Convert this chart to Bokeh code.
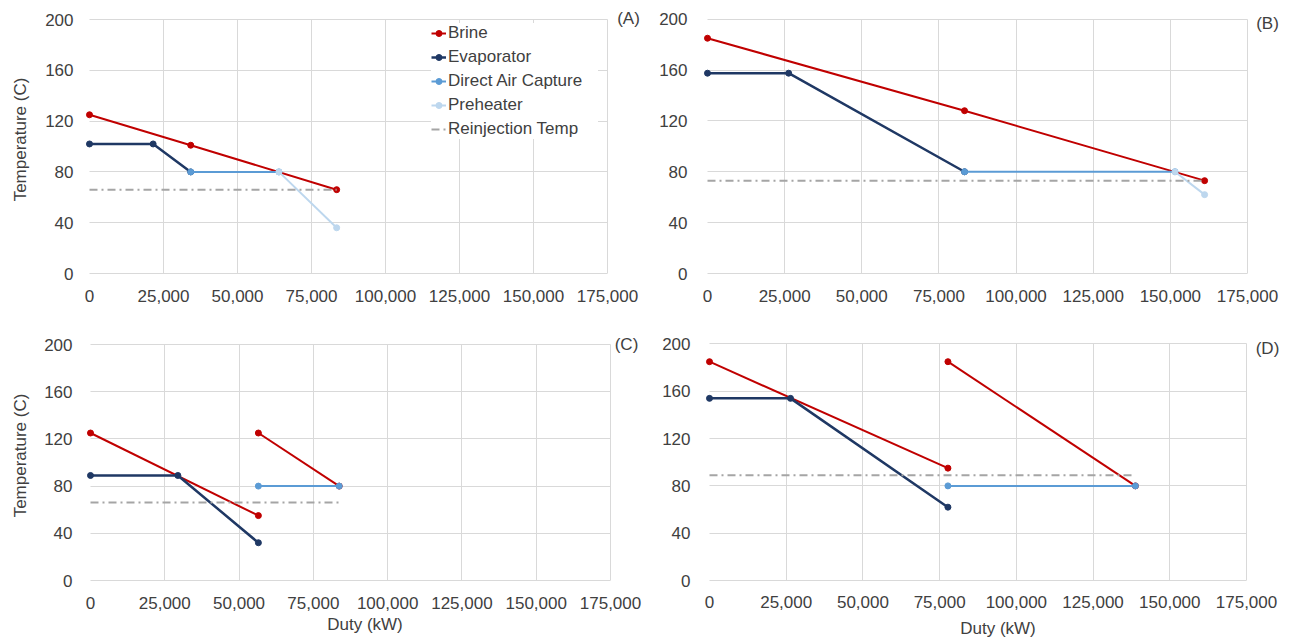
from bokeh.plotting import figure
from bokeh.layouts import column, row
from bokeh.models import Range1d, FixedTicker, NumeralTickFormatter, Label, Legend, LegendItem
from bokeh.embed import file_html
from bokeh.resources import INLINE

# ---------------- data ----------------
x_ticks = [0, 25000, 50000, 75000, 100000, 125000, 150000, 175000]
y_ticks = [0, 40, 80, 120, 160, 200]
panel_labels = ["(A)", "(B)", "(C)", "(D)"]
series_names = ["Brine", "Evaporator", "Direct Air Capture", "Preheater", "Reinjection Temp"]
x_title = "Duty (kW)"
y_title = "Temperature (C)"

# Panel A
a_brine_x = [0, 34200, 83500]
a_brine_y = [125, 101, 66]
a_evap_x = [0, 21500, 34200]
a_evap_y = [102, 102, 80]
a_dac_x = [34200, 64000]
a_dac_y = [80, 80]
a_pre_x = [64000, 83500]
a_pre_y = [80, 36]
a_reinj_x = [0, 83500]
a_reinj_y = [66, 66]

# Panel B
b_brine_x = [0, 83300, 161100]
b_brine_y = [185, 128, 73]
b_evap_x = [0, 26300, 83300]
b_evap_y = [157.5, 157.5, 80]
b_dac_x = [83300, 151500]
b_dac_y = [80, 80]
b_pre_x = [151500, 161100]
b_pre_y = [80, 62]
b_reinj_x = [0, 161100]
b_reinj_y = [73, 73]

# Panel C
c_brine1_x = [0, 56500]
c_brine1_y = [125, 55]
c_brine2_x = [56500, 83700]
c_brine2_y = [125, 80]
c_evap_x = [0, 29400, 56500]
c_evap_y = [89, 89, 32]
c_dac_x = [56500, 83700]
c_dac_y = [80, 80]
c_reinj_x = [0, 83700]
c_reinj_y = [66, 66]

# Panel D
d_brine1_x = [0, 77700]
d_brine1_y = [185, 95]
d_brine2_x = [77700, 138800]
d_brine2_y = [185, 80]
d_evap_x = [0, 26400, 77700]
d_evap_y = [154, 154, 62]
d_dac_x = [77700, 138800]
d_dac_y = [80, 80]
d_reinj_x = [0, 138800]
d_reinj_y = [89, 89]

# ---------------- styles ----------------
FONT = "Liberation Sans"
TXT = "#404040"
GRID = "#D9D9D9"
C_BRINE = "#C00000"
C_EVAP = "#1F3864"
C_DAC = "#5B9BD5"
C_PRE = "#BDD7EE"
C_REINJ = "#A5A5A5"
X_MAX = x_ticks[-1]
Y_MAX = y_ticks[-1]
EXT_TOP = 14   # extra pixels above the 200 line so the panel tag is not clipped
EXT_LEFT = 5   # extra pixels left of 0 so markers at 0 are not clipped


def make_fig(width, height, left, top, bottom, data_px, xlabel, ylabel,
             xstand, ystand, xlab_stand, ylab_stand):
    right = 2
    frame_w = width - left - right + EXT_LEFT
    data_h = height - top - bottom
    px_per_x = data_px / X_MAX
    x_start = -EXT_LEFT / px_per_x
    x_end = (frame_w - EXT_LEFT) / px_per_x
    y_end = Y_MAX * (data_h + EXT_TOP) / data_h
    p = figure(width=width, height=height, output_backend="svg", toolbar_location=None,
               x_range=Range1d(x_start, x_end), y_range=Range1d(0, y_end),
               min_border_left=left - EXT_LEFT, min_border_right=right,
               min_border_top=top - EXT_TOP, min_border_bottom=bottom)
    p.outline_line_color = None
    p.background_fill_color = "white"
    p.border_fill_color = "white"
    p.xaxis.ticker = FixedTicker(ticks=x_ticks)
    p.yaxis.ticker = FixedTicker(ticks=y_ticks)
    p.xaxis.formatter = NumeralTickFormatter(format="0,0")
    p.xaxis.bounds = (0, X_MAX)
    p.yaxis.bounds = (0, Y_MAX)
    p.xgrid.ticker = FixedTicker(ticks=x_ticks[1:])
    p.ygrid.ticker = FixedTicker(ticks=y_ticks[1:])
    p.ygrid.cross_bounds = (0, X_MAX)
    p.xgrid.cross_bounds = (0, Y_MAX)
    p.xgrid.grid_line_color = GRID
    p.ygrid.grid_line_color = GRID
    p.xaxis.axis_line_color = GRID
    p.yaxis.axis_line_color = None
    for ax in (p.xaxis, p.yaxis):
        ax.major_tick_line_color = None
        ax.minor_tick_line_color = None
        ax.major_label_text_font = FONT
        ax.major_label_text_font_size = "17px"
        ax.major_label_text_color = TXT
        ax.axis_label_text_font = FONT
        ax.axis_label_text_font_size = "17px"
        ax.axis_label_text_font_style = "normal"
        ax.axis_label_text_color = TXT
    p.xaxis.major_label_standoff = xstand
    p.yaxis.major_label_standoff = ystand - EXT_LEFT
    if xlabel:
        p.xaxis.axis_label = xlabel
        p.xaxis.axis_label_standoff = xlab_stand
    if ylabel:
        p.yaxis.axis_label = ylabel
        p.yaxis.axis_label_standoff = ylab_stand
    return p


def series(p, xs, ys, color, lw, marker=True):
    r = p.line(xs, ys, line_color=color, line_width=lw)
    rs = [r]
    if marker:
        s = p.scatter(xs, ys, marker="circle", size=6, fill_color=color, line_color=color)
        rs.append(s)
    return rs


def reinj(p, xs, ys):
    return [p.line(xs, ys, line_color=C_REINJ, line_width=2, line_dash="8 4 2 4")]


def panel_label(p, text, xoff, yoff):
    p.add_layout(Label(x=X_MAX, y=Y_MAX, x_offset=xoff, y_offset=yoff, text=text,
                       text_align="center", text_baseline="middle",
                       text_font=FONT, text_font_size="17px", text_color=TXT))


# Panel A
pa = make_fig(646, 316, 89, 19, 43, 518, None, y_title, 10, 10, 0, 12)
ra_b = series(pa, a_brine_x, a_brine_y, C_BRINE, 2)
ra_e = series(pa, a_evap_x, a_evap_y, C_EVAP, 2.5)
ra_d = series(pa, a_dac_x, a_dac_y, C_DAC, 2)
ra_p = series(pa, a_pre_x, a_pre_y, C_PRE, 2)
ra_r = reinj(pa, a_reinj_x, a_reinj_y)
legend = Legend(items=[LegendItem(label=series_names[0], renderers=ra_b),
                       LegendItem(label=series_names[1], renderers=ra_e),
                       LegendItem(label=series_names[2], renderers=ra_d),
                       LegendItem(label=series_names[3], renderers=ra_p),
                       LegendItem(label=series_names[4], renderers=ra_r)],
                location=(342 + EXT_LEFT, 134), margin=0, padding=3, spacing=4,
                glyph_width=15, glyph_height=20, label_height=20, label_width=150,
                label_standoff=2, label_text_font=FONT, label_text_font_size="17px",
                label_text_color=TXT, border_line_color=None,
                background_fill_color="white", background_fill_alpha=1.0)
pa.add_layout(legend)
panel_label(pa, panel_labels[0], 21, 1)

# Panel B
pb = make_fig(647, 316, 61, 17, 38, 540, None, None, 10, 14, 0, 0)
series(pb, b_brine_x, b_brine_y, C_BRINE, 2)
series(pb, b_evap_x, b_evap_y, C_EVAP, 2.5)
series(pb, b_dac_x, b_dac_y, C_DAC, 2)
series(pb, b_pre_x, b_pre_y, C_PRE, 2)
reinj(pb, b_reinj_x, b_reinj_y)
panel_label(pb, panel_labels[1], 20, -4)

# Panel C
pc = make_fig(646, 326, 90, 28, 62, 520, x_title, y_title, 10, 12, 3, 11)
series(pc, c_brine1_x, c_brine1_y, C_BRINE, 2)
series(pc, c_brine2_x, c_brine2_y, C_BRINE, 2)
series(pc, c_evap_x, c_evap_y, C_EVAP, 2.5)
series(pc, c_dac_x, c_dac_y, C_DAC, 2)
reinj(pc, c_reinj_x, c_reinj_y)
panel_label(pc, panel_labels[2], 16, 0)

# Panel D
pd_ = make_fig(647, 326, 63, 22, 58, 537, x_title, None, 9, 13, 8, 0)
series(pd_, d_brine1_x, d_brine1_y, C_BRINE, 2)
series(pd_, d_brine2_x, d_brine2_y, C_BRINE, 2)
series(pd_, d_evap_x, d_evap_y, C_EVAP, 2.5)
series(pd_, d_dac_x, d_dac_y, C_DAC, 2)
reinj(pd_, d_reinj_x, d_reinj_y)
panel_label(pd_, panel_labels[3], 21, -5)

layout = column(row(pa, pb), row(pc, pd_))
open("out.html", "w").write(file_html(layout, INLINE))
